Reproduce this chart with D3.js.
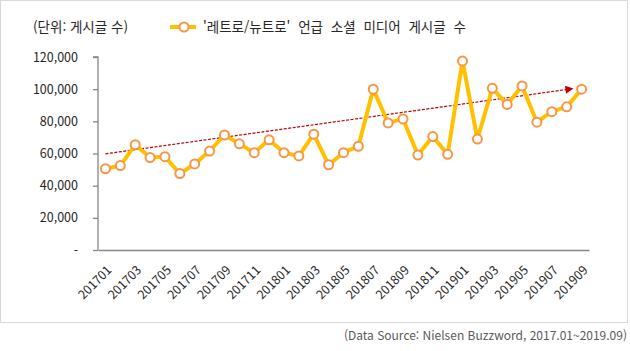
<!DOCTYPE html>
<html lang="ko">
<head>
<meta charset="UTF-8">
<title>레트로/뉴트로 언급 소셜 미디어 게시글 수</title>
<style>
    body { margin: 0; background: #fff; font-family: "Noto Sans CJK KR", "Noto Sans", sans-serif; }
    svg text { fill: #262626; }
</style>
</head>
<body>
<div id="chart"></div>
<script src="https://d3js.org/d3.v7.min.js"></script>
<script>
    // monthly categories 2017.01 ~ 2019.09
    const months = ['201701','201702','201703','201704','201705','201706','201707','201708','201709','201710','201711','201712',
                    '201801','201802','201803','201804','201805','201806','201807','201808','201809','201810','201811','201812',
                    '201901','201902','201903','201904','201905','201906','201907','201908','201909'];
    const posts = [50500, 52500, 65500, 57500, 58000, 47500, 53500, 61500, 71500, 66000, 60500, 68500,
                   60500, 58500, 72000, 53000, 60500, 64500, 100000, 79000, 81500, 59000, 70500, 59500,
                   117500, 69000, 100500, 90500, 102000, 79500, 86000, 89000, 100000];
    const yTicks = [0, 20000, 40000, 60000, 80000, 100000, 120000];
    // trend arrow: start / end (category index, value)
    const trendIdx = [0, 31.4];
    const trendVal = [59800, 100300];

    const width = 630, height = 351;
    const margin = { left: 98, right: 41, top: 57, bottom: 101 };

    const svg = d3.select('#chart').append('svg')
        .attr('width', width)
        .attr('height', height);

    // outer frame
    svg.append('rect')
        .attr('x', 0.5).attr('y', 0.5)
        .attr('width', 627).attr('height', 322)
        .attr('fill', 'none')
        .attr('stroke', '#d9d9d9');

    const x = d3.scaleBand()
        .domain(months)
        .range([margin.left, width - margin.right]);
    const xi = i => x(months[0]) + x.bandwidth() / 2 + i * x.step();

    const y = d3.scaleLinear()
        .domain([0, 120000])
        .range([height - margin.bottom, margin.top]);

    const fmt = d3.format(',');

    // y axis
    const yAxis = svg.append('g')
        .attr('transform', `translate(${margin.left},0)`)
        .call(d3.axisLeft(y).tickValues(yTicks).tickSize(5).tickPadding(15)
            .tickFormat(d => d === 0 ? '-' : fmt(d)));
    yAxis.selectAll('path, line').attr('stroke', '#868686').attr('stroke-width', 1.3);
    yAxis.selectAll('text').attr('font-size', 12.5).attr('font-family', '"Noto Sans CJK KR"');
    yAxis.select('.domain').attr('d', `M-5,${y(120000)}H0V${y(0)}`);

    // x axis, every other month labelled
    const xAxis = svg.append('g')
        .attr('transform', `translate(0,${y(0)})`)
        .call(d3.axisBottom(x).tickSize(0).tickPadding(0)
            .tickFormat((d, i) => i % 2 === 0 ? d : ''));
    xAxis.select('.domain').attr('stroke', '#868686').attr('stroke-width', 1.3);
    xAxis.selectAll('text')
        .attr('font-size', 12.3)
        .attr('font-family', '"Noto Sans CJK KR"')
        .attr('text-anchor', 'end')
        .attr('dy', 0)
        .attr('transform', 'translate(7,21) rotate(-45)');

    // legend / unit
    svg.append('text')
        .attr('x', 33).attr('y', 32)
        .attr('font-size', 13.5)
        .text('(단위: 게시글 수)');
    svg.append('line')
        .attr('x1', 170).attr('x2', 196)
        .attr('y1', 27).attr('y2', 27)
        .attr('stroke', '#FFC000').attr('stroke-width', 4);
    svg.append('circle')
        .attr('cx', 184).attr('cy', 27).attr('r', 4.5)
        .attr('fill', '#fff').attr('stroke', '#F79646').attr('stroke-width', 2);
    svg.append('text')
        .attr('x', 203).attr('y', 32)
        .attr('font-size', 13.5)
        .attr('word-spacing', 4)
        .text("'레트로/뉴트로' 언급 소셜 미디어 게시글 수");

    // trend arrow
    svg.append('defs').append('marker')
        .attr('id', 'arrow')
        .attr('viewBox', '0 0 10 10')
        .attr('refX', 9).attr('refY', 5)
        .attr('markerWidth', 9).attr('markerHeight', 8)
        .attr('markerUnits', 'userSpaceOnUse')
        .attr('orient', 'auto')
        .append('path')
        .attr('d', 'M0,0L10,5L0,10Z')
        .attr('fill', '#C00000');
    svg.append('line')
        .attr('x1', xi(trendIdx[0])).attr('y1', y(trendVal[0]))
        .attr('x2', xi(trendIdx[1])).attr('y2', y(trendVal[1]))
        .attr('stroke', '#C00000')
        .attr('stroke-width', 1.2)
        .attr('stroke-dasharray', '3,1.5')
        .attr('marker-end', 'url(#arrow)');

    // series line
    const line = d3.line()
        .x((d, i) => xi(i))
        .y(d => y(d));
    svg.append('path')
        .datum(posts)
        .attr('d', line)
        .attr('fill', 'none')
        .attr('stroke', '#FFC000')
        .attr('stroke-width', 4)
        .attr('stroke-linejoin', 'round');

    svg.append('g').selectAll('circle')
        .data(posts)
        .enter().append('circle')
        .attr('cx', (d, i) => xi(i))
        .attr('cy', d => y(d))
        .attr('r', 4.5)
        .attr('fill', '#fff')
        .attr('stroke', '#F79646')
        .attr('stroke-width', 2);

    // source note
    svg.append('text')
        .attr('x', 627).attr('y', 340)
        .attr('text-anchor', 'end')
        .attr('font-size', 12)
        .style('fill', '#595959')
        .text('(Data Source: Nielsen Buzzword, 2017.01~2019.09)');
</script>
</body>
</html>
